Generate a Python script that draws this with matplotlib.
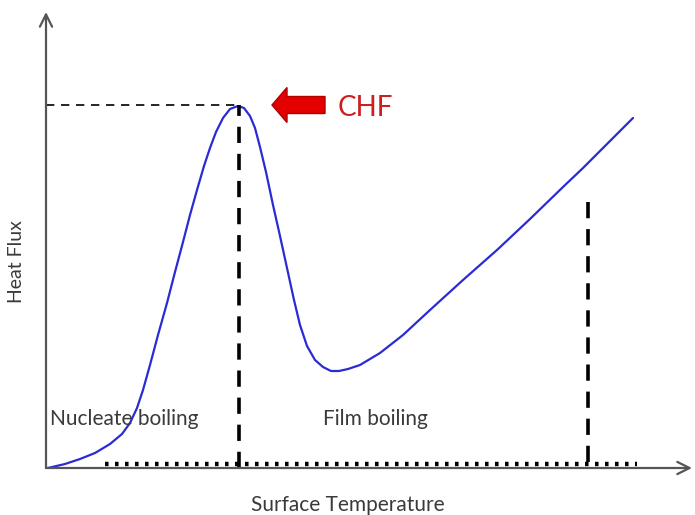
import numpy as np
import matplotlib.pyplot as plt
from matplotlib.patches import FancyArrow

# Boiling curve (axis units ~ pixels from the origin)
surface_temp = [2, 19, 34, 49, 64, 76, 84, 91, 97, 104, 112, 121, 129, 137, 144,
                151, 158, 164, 170, 177, 184, 192, 198, 204, 209, 214, 220, 227,
                234, 241, 248, 254, 261, 269, 277, 285, 293, 302, 314, 334, 357,
                384, 417, 451, 484, 517, 537, 561, 587]
heat_flux = [0, 4, 9, 15, 24, 34, 45, 60, 78, 103, 133, 165, 196, 226, 253,
             278, 302, 320, 336, 350, 359, 362, 360, 352, 340, 321, 296, 263,
             232, 200, 168, 143, 122, 108, 101, 97, 97, 99, 103, 115, 133,
             158, 188, 218, 249, 281, 300, 324, 350]

# Key points of the sketch
chf_temp = 193
chf_flux = 363
film_end_temp = 542
film_end_top = 271
dotted_start = 59
dotted_end = 591

x_label = 'Surface Temperature'
y_label = 'Heat Flux'
region_labels = ['Nucleate boiling', 'Film boiling']
region_x = [4, 277]
region_y = 49

fig = plt.figure(figsize=(6.95, 5.15), dpi=100)
ax = fig.add_axes([46 / 695, 47 / 515, 646 / 695, 456 / 515])
ax.set_xlim(0, 646)
ax.set_ylim(0, 456)
ax.axis('off')

axis_color = '#555555'
text_color = '#3a3a3a'
font = 'Lato'

# Axes drawn as arrows
ax.annotate('', xy=(0, 456), xytext=(0, 0),
            arrowprops=dict(arrowstyle='->', color=axis_color, lw=1.6,
                            mutation_scale=22, shrinkA=0, shrinkB=0))
ax.annotate('', xy=(646, 0), xytext=(0, 0),
            arrowprops=dict(arrowstyle='->', color=axis_color, lw=1.6,
                            mutation_scale=22, shrinkA=0, shrinkB=0))

# Boiling curve
ax.plot(surface_temp, heat_flux, color='#2b2bd6', lw=1.6,
        solid_capstyle='round', solid_joinstyle='round')

# Reference lines
ax.plot([0, chf_temp], [chf_flux, chf_flux], color='black', lw=1.2,
        linestyle=(0, (5, 4)))
ax.plot([chf_temp, chf_temp], [0, chf_flux], color='black', lw=2.6,
        linestyle=(0, (4.5, 3)))
ax.plot([film_end_temp, film_end_temp], [6, film_end_top], color='black', lw=2.6,
        linestyle=(0, (4.5, 3)))
ax.plot([dotted_start, dotted_end], [4, 4], color='black', lw=3.2,
        linestyle=(0, (0.8, 1.45)))

# CHF marker arrow
ax.add_patch(FancyArrow(279, chf_flux, -53, 0, width=17, head_width=35,
                        head_length=15, length_includes_head=True,
                        facecolor='#e30000', edgecolor='#b00000', lw=1))
ax.text(292, chf_flux - 3, 'CHF', color='#cc2020', fontsize=20, family=font,
        va='center', ha='left')

# Region labels
for label, xpos in zip(region_labels, region_x):
    ax.text(xpos, region_y, label, color=text_color, fontsize=15, family=font,
            va='center', ha='left')

fig.text(348 / 695, 1 - 505 / 515, x_label, color=text_color, fontsize=15,
         family=font, ha='center', va='center')
fig.text(17 / 695, 1 - 262 / 515, y_label, color=text_color, fontsize=14,
         family=font, ha='center', va='center', rotation=90)

plt.savefig('out.png', dpi=100)
